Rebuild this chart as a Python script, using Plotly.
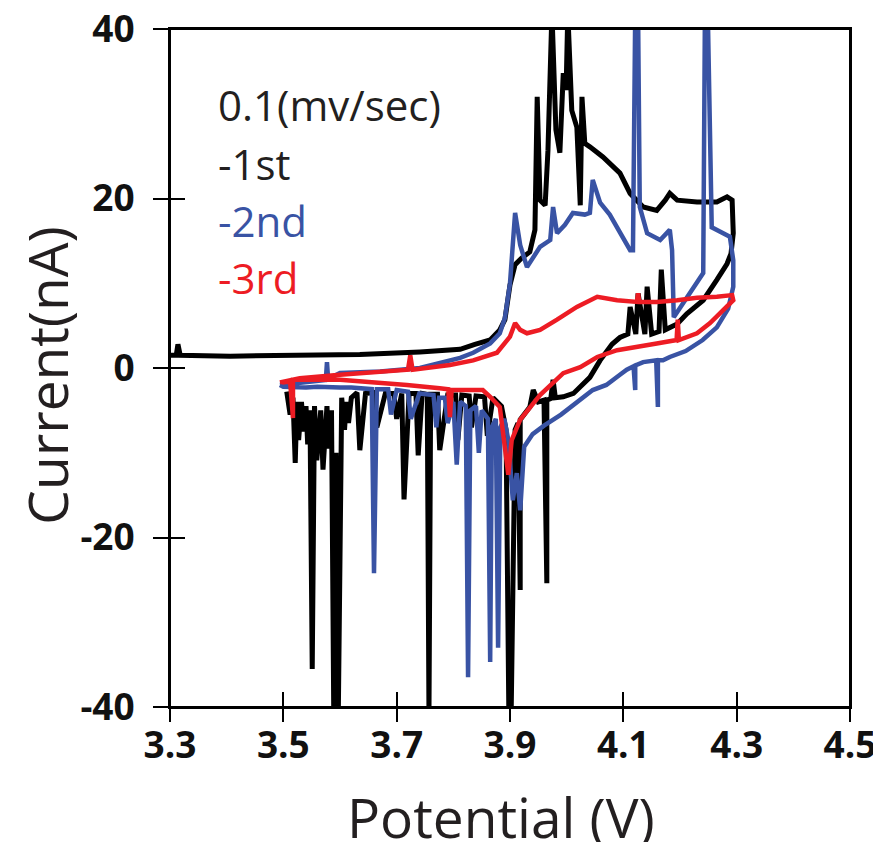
import plotly.graph_objects as go

# ---------------- data ----------------
x_tick_vals = [3.3, 3.5, 3.7, 3.9, 4.1, 4.3, 4.5]
x_tick_text = ["3.3", "3.5", "3.7", "3.9", "4.1", "4.3", "4.5"]
y_tick_vals = [-40, -20, 0, 20, 40]
y_tick_text = ["-40", "-20", "0", "20", "40"]

scan_rate_label = "0.1(mv/sec)"
series_names = ["-1st", "-2nd", "-3rd"]

# 1st cycle (black)
potential_1st = [
    3.300, 3.311, 3.314, 3.318, 3.406, 3.529, 3.635, 3.741, 3.812, 3.838, 3.865, 3.882, 3.891,
    3.900, 3.909, 3.921, 3.935, 3.944, 3.948, 3.953, 3.962, 3.967, 3.974, 3.981, 3.988, 3.994,
    3.999, 4.002, 4.009, 4.018, 4.024, 4.027, 4.032, 4.041, 4.064, 4.094, 4.112, 4.135, 4.159,
    4.174, 4.182, 4.195, 4.230, 4.265, 4.283, 4.292, 4.294,
    4.290, 4.283, 4.265, 4.241, 4.212, 4.195, 4.174, 4.167, 4.163, 4.150, 4.142, 4.138, 4.126,
    4.122, 4.112, 4.108, 4.094, 4.080, 4.059, 4.041, 4.012, 3.994, 3.980, 3.976, 3.972, 3.965,
    3.965, 3.960, 3.950, 3.941, 3.935, 3.925, 3.918, 3.918, 3.914, 3.909, 3.902, 3.898, 3.893,
    3.885, 3.870, 3.860, 3.855, 3.840, 3.832, 3.828, 3.815, 3.808, 3.804, 3.790, 3.776, 3.772,
    3.760, 3.757, 3.754, 3.745, 3.738, 3.734, 3.722, 3.713, 3.709, 3.700, 3.695, 3.680, 3.665,
    3.660, 3.645, 3.635, 3.630, 3.620, 3.615, 3.611, 3.608, 3.603, 3.597, 3.593, 3.589, 3.585,
    3.580, 3.577, 3.573, 3.570, 3.566, 3.562, 3.559, 3.555, 3.551, 3.547, 3.543, 3.540, 3.536,
    3.532, 3.527, 3.524, 3.521, 3.517, 3.512, 3.506,
]
current_1st = [
    1.5, 1.5, 2.8, 1.5, 1.4, 1.5, 1.6, 1.9, 2.2, 2.8, 3.3, 4.5, 5.7,
    9.8, 12.2, 13.0, 13.7, 16.3, 32.0, 19.8, 19.2, 25.7, 42.0, 28.1, 25.4, 34.8,
    32.8, 42.0, 30.4, 28.4, 19.2, 32.0, 26.5, 26.1, 24.9, 23.0, 20.6, 19.0, 18.6,
    19.8, 20.6, 19.8, 19.6, 19.6, 20.2, 19.8, 15.9,
    13.5, 12.3, 10.4, 8.0, 6.4, 5.2, 4.5, 11.6, 4.3, 4.0, 9.6, 4.0, 8.8,
    4.0, 7.2, 4.0, 3.6, 2.8, 0.9, -1.1, -3.0, -3.4, -3.5, -1.4, -3.6, -3.8,
    -25.4, -3.8, -4.0, -2.6, -4.6, -5.5, -6.1, -26.2, -6.5, -7.3, -41.0, -41.0, -7.3,
    -4.5, -3.5, -8.0, -3.4, -3.3, -7.0, -3.3, -3.2, -8.5, -3.2, -3.2, -9.7, -3.1,
    -3.1, -41.0, -3.1, -3.0, -10.3, -3.0, -3.0, -15.5, -3.0, -6.0, -3.0, -3.0, -7.0,
    -2.9, -3.0, -9.7, -2.9, -3.5, -6.5, -4.0, -7.3, -3.5, -41.0, -10.0, -41.0, -5.0,
    -9.5, -4.5, -8.0, -12.0, -5.0, -8.5, -10.9, -4.5, -35.5, -5.0, -9.0, -4.5, -7.5,
    -4.0, -8.5, -4.0, -11.2, -3.5, -5.5, -2.8,
]

# 2nd cycle (blue)
potential_2nd = [
    3.494, 3.529, 3.565, 3.575, 3.577, 3.579, 3.600, 3.671, 3.741, 3.776, 3.812, 3.835, 3.865,
    3.882, 3.891, 3.900, 3.909, 3.918, 3.930, 3.953, 3.971, 3.976, 3.983, 3.997, 4.011, 4.032,
    4.041, 4.046, 4.059, 4.076, 4.094, 4.112, 4.117, 4.121, 4.126, 4.129, 4.142, 4.165, 4.182,
    4.186, 4.189, 4.218, 4.241, 4.244, 4.249, 4.256, 4.276, 4.288, 4.294, 4.294,
    4.285, 4.265, 4.240, 4.210, 4.182, 4.170, 4.161, 4.161, 4.158, 4.135, 4.121, 4.121, 4.118,
    4.106, 4.094, 4.070, 4.046, 4.018, 3.990, 3.960, 3.940, 3.925, 3.918, 3.912, 3.905, 3.897,
    3.890, 3.883, 3.879, 3.875, 3.868, 3.865, 3.861, 3.850, 3.845, 3.840, 3.830, 3.826, 3.822,
    3.812, 3.806, 3.800, 3.790, 3.785, 3.775, 3.770, 3.765, 3.740, 3.725, 3.720, 3.700, 3.690,
    3.685, 3.665, 3.660, 3.656, 3.640, 3.620, 3.600, 3.580, 3.560, 3.540, 3.520, 3.500, 3.494,
]
current_2nd = [
    -2.0, -1.7, -1.4, -1.4, 0.7, -1.3, -0.6, -0.4, 0.0, 0.6, 1.2, 1.8, 2.9,
    4.1, 5.9, 10.0, 18.3, 14.5, 11.9, 14.3, 15.1, 19.0, 15.9, 16.9, 18.3, 18.1,
    18.3, 22.2, 19.5, 18.1, 15.9, 13.9, 13.9, 42.0, 42.0, 19.0, 15.9, 15.1, 16.3,
    13.9, 6.0, 8.8, 11.2, 42.0, 42.0, 16.6, 15.9, 15.5, 12.7, 9.6,
    7.0, 4.8, 3.3, 2.0, 1.3, 0.9, 0.9, -4.6, 0.9, 0.7, 0.3, -2.6, 0.2,
    -0.2, -0.8, -2.0, -2.6, -4.0, -5.5, -6.8, -7.8, -9.3, -16.8, -12.4, -15.6, -8.5,
    -6.0, -7.0, -33.0, -6.0, -7.0, -34.7, -6.0, -5.0, -10.0, -4.5, -5.0, -36.5, -4.5,
    -4.0, -11.4, -4.0, -6.5, -3.5, -3.5, -7.0, -3.2, -3.0, -6.0, -2.8, -2.6, -5.5,
    -2.5, -2.5, -24.2, -2.5, -2.4, -2.3, -2.3, -2.2, -2.2, -2.3, -2.3, -2.2, -2.0,
]

# 3rd cycle (red)
potential_3rd = [
    3.494, 3.529, 3.600, 3.671, 3.720, 3.724, 3.728, 3.794, 3.835, 3.877, 3.900, 3.909, 3.918,
    3.930, 3.953, 3.983, 4.018, 4.054, 4.089, 4.124, 4.126, 4.128, 4.159, 4.195, 4.230, 4.265,
    4.292, 4.294,
    4.276, 4.253, 4.230, 4.198, 4.196, 4.194, 4.159, 4.124, 4.089, 4.054, 4.024, 3.994, 3.953,
    3.918, 3.903, 3.897, 3.891, 3.882, 3.865, 3.852, 3.812, 3.797, 3.794, 3.791, 3.776, 3.718,
    3.600, 3.529, 3.517, 3.517, 3.512, 3.498,
]
current_3rd = [
    -1.7, -1.2, -0.8, -0.5, -0.2, 1.5, -0.2, 0.35, 0.9, 1.8, 3.7, 5.3, 4.5,
    4.1, 4.5, 5.7, 7.2, 8.4, 8.0, 7.8, 8.8, 7.8, 7.8, 8.0, 8.3, 8.4,
    8.6, 8.0,
    6.8, 5.3, 4.1, 3.3, 5.7, 3.3, 2.9, 2.5, 2.1, 1.3, 0.1, -0.6, -3.2,
    -6.1, -8.5, -12.6, -9.1, -4.6, -3.4, -2.6, -2.6, -2.6, -5.8, -2.5, -2.4, -2.0,
    -1.4, -1.3, -1.4, -5.9, -1.6, -1.7,
]

# ---------------- figure ----------------
BLACK = "#000000"
BLUE = "#3953a4"
RED = "#ed1c24"
TEXT = "#231f20"

fig = go.Figure()
for px_, cy, col, name, w in [
    (potential_1st, current_1st, BLACK, series_names[0], 5),
    (potential_2nd, current_2nd, BLUE, series_names[1], 4.5),
    (potential_3rd, current_3rd, RED, series_names[2], 4.5),
]:
    fig.add_trace(go.Scatter(x=px_, y=cy, mode="lines", name=name,
                             line=dict(color=col, width=w), showlegend=False))

# helper trace for the overlay axes (inside half of the crossing ticks)
fig.add_trace(go.Scatter(x=[], y=[], xaxis="x2", yaxis="y2", showlegend=False))

tick_font = dict(family="Open Sans", size=37, color="#111111", weight="bold")

fig.update_layout(
    width=872, height=834,
    margin=dict(l=162, r=30, t=21, b=135),
    paper_bgcolor="white", plot_bgcolor="white",
    xaxis=dict(range=[3.3, 4.5], tickvals=x_tick_vals, ticktext=x_tick_text,
               showgrid=False, zeroline=False, showline=True, mirror=True,
               linecolor="black", linewidth=2, ticks="outside", ticklen=13,
               tickwidth=2, tickcolor="black", tickfont=tick_font,
               ticklabelstandoff=-8, automargin=False, ticklabeloverflow="allow"),
    yaxis=dict(range=[-40, 40.0001], tickvals=y_tick_vals, ticktext=y_tick_text,
               showgrid=False, zeroline=False, showline=True, mirror=True,
               linecolor="black", linewidth=2, ticks="outside", ticklen=15,
               tickwidth=2, tickcolor="black", tickfont=tick_font,
               ticklabelstandoff=11, automargin=False, ticklabeloverflow="allow"),
    xaxis2=dict(range=[3.3, 4.5], tickvals=x_tick_vals, overlaying="x", anchor="y",
                side="bottom", showgrid=False, zeroline=False, showline=False,
                ticks="inside", ticklen=15, tickwidth=2, tickcolor="black",
                showticklabels=False, automargin=False),
    yaxis2=dict(range=[-40, 40.0001], tickvals=y_tick_vals, overlaying="y", anchor="x",
                side="left", showgrid=False, zeroline=False, showline=False,
                ticks="inside", ticklen=15, tickwidth=2, tickcolor="black",
                showticklabels=False, automargin=False),
    shapes=[dict(type="rect", xref="paper", yref="paper", x0=0, x1=1, y0=0, y1=1,
                 line=dict(color="black", width=2), layer="above")],
)

annotations = [
    dict(text="Potential (V)", xref="paper", yref="paper", x=0.487, y=-0.161,
         xanchor="center", yanchor="middle", showarrow=False,
         font=dict(family="Open Sans", size=55, color=TEXT)),
    dict(text="Current(nA)", xref="paper", yref="paper", x=-0.181, y=0.49,
         xanchor="center", yanchor="middle", showarrow=False, textangle=-90,
         font=dict(family="Open Sans", size=55, color=TEXT)),
]
legend_rows = [
    (scan_rate_label, TEXT, 0.888),
    (series_names[0], TEXT, 0.802),
    (series_names[1], BLUE, 0.718),
    (series_names[2], RED, 0.633),
]
for txt, col, yy in legend_rows:
    annotations.append(dict(text=txt, xref="paper", yref="paper", x=0.068, y=yy,
                            xanchor="left", yanchor="middle", showarrow=False,
                            font=dict(family="Open Sans", size=42, color=col)))
fig.update_layout(annotations=annotations)

fig.write_html("out.html")
